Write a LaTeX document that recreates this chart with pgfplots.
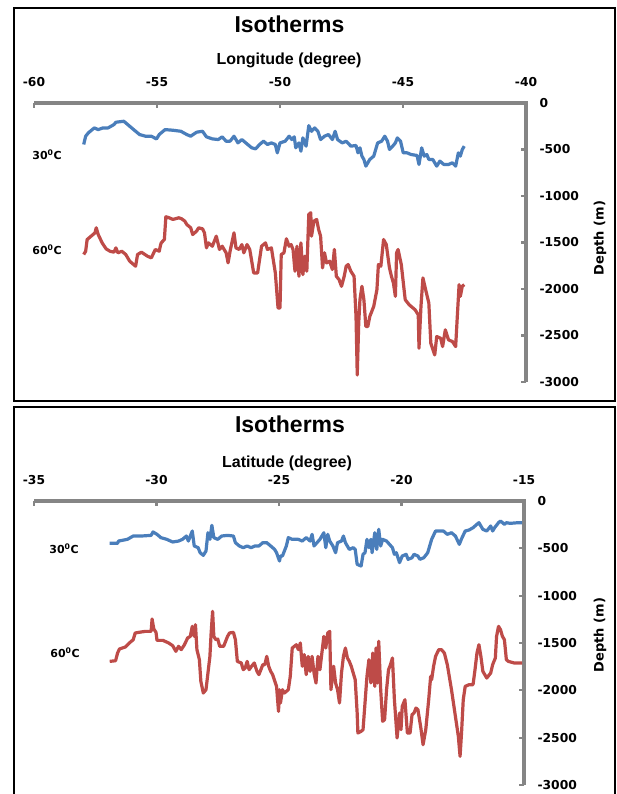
\documentclass[border=0pt]{standalone}
\usepackage{fontspec}
\usepackage{pgfplots}
\pgfplotsset{compat=1.18}
\setmainfont{Liberation Sans}
\newfontfamily\dvs{DejaVu Sans}
\definecolor{isoblue}{HTML}{4A7EBB}
\definecolor{isored}{HTML}{BE4B48}
\definecolor{axgray}{HTML}{858585}
\newcommand{\tickf}{\dvs\bfseries\fontsize{12.3}{14}\selectfont}
\newcommand{\labf}{\dvs\bfseries\fontsize{11}{13}\selectfont}

\pgfplotstableread{
x y
-57.98 -446
-57.90 -357
-57.79 -321
-57.55 -268
-57.39 -286
-57.20 -268
-56.99 -268
-56.75 -232
-56.67 -207
-56.35 -196
-56.19 -232
-55.95 -286
-55.71 -339
-55.47 -357
-55.23 -357
-55.02 -386
-54.91 -339
-54.67 -286
-54.35 -293
-54.03 -304
-53.79 -339
-53.63 -357
-53.39 -314
-53.15 -304
-52.99 -364
-52.75 -386
-52.51 -393
-52.35 -364
-52.19 -411
-52.03 -411
-51.87 -357
-51.71 -429
-51.55 -393
-51.39 -429
-51.15 -482
-50.99 -493
-50.83 -446
-50.67 -411
-50.51 -446
-50.35 -429
-50.19 -446
-50.11 -536
-50.00 -429
-49.79 -411
-49.63 -357
-49.52 -393
-49.42 -364
-49.36 -482
-49.23 -429
-49.15 -518
-49.07 -375
-48.94 -464
-48.83 -243
-48.72 -304
-48.59 -268
-48.46 -304
-48.35 -393
-48.19 -357
-48.03 -339
-47.87 -393
-47.76 -304
-47.66 -393
-47.47 -429
-47.31 -411
-47.12 -464
-46.91 -457
-46.83 -536
-46.75 -482
-46.67 -571
-46.59 -607
-46.51 -679
-46.43 -643
-46.35 -607
-46.19 -571
-46.03 -429
-45.87 -411
-45.74 -357
-45.63 -411
-45.55 -500
-45.42 -464
-45.31 -429
-45.23 -375
-45.10 -411
-44.99 -536
-44.83 -536
-44.67 -554
-44.43 -564
-44.35 -661
-44.24 -482
-44.14 -571
-44.03 -554
-43.95 -607
-43.79 -607
-43.63 -679
-43.50 -625
-43.34 -661
-43.15 -661
-42.99 -643
-42.86 -679
-42.75 -536
-42.67 -571
-42.59 -500
-42.51 -464
}\lonthirty

\pgfplotstableread{
x y
-57.98 -1629
-57.90 -1594
-57.84 -1468
-57.68 -1432
-57.52 -1396
-57.47 -1342
-57.39 -1414
-57.23 -1504
-57.07 -1568
-56.91 -1594
-56.75 -1604
-56.67 -1558
-56.59 -1611
-56.43 -1594
-56.27 -1629
-56.11 -1701
-55.95 -1737
-55.87 -1755
-55.79 -1629
-55.63 -1604
-55.39 -1647
-55.23 -1665
-55.07 -1575
-54.91 -1594
-54.86 -1532
-54.83 -1504
-54.70 -1468
-54.64 -1223
-54.51 -1234
-54.35 -1252
-54.11 -1234
-54.00 -1245
-53.87 -1270
-53.79 -1306
-53.63 -1342
-53.55 -1414
-53.39 -1378
-53.31 -1342
-53.15 -1353
-53.07 -1396
-52.99 -1558
-52.91 -1504
-52.75 -1540
-52.59 -1432
-52.46 -1575
-52.35 -1540
-52.19 -1611
-52.11 -1719
-52.03 -1594
-51.87 -1396
-51.79 -1558
-51.66 -1575
-51.55 -1522
-51.47 -1611
-51.34 -1522
-51.23 -1575
-51.07 -1827
-50.91 -1827
-50.75 -1540
-50.59 -1504
-50.51 -1575
-50.35 -1558
-50.19 -1827
-50.08 -2205
-50.00 -2205
-49.95 -1629
-49.84 -1611
-49.74 -1460
-49.63 -1540
-49.55 -1522
-49.47 -1575
-49.39 -1809
-49.31 -1540
-49.23 -1863
-49.15 -1504
-49.07 -1845
-48.99 -1647
-48.91 -1809
-48.83 -1198
-48.75 -1180
-48.72 -1432
-48.62 -1270
-48.51 -1252
-48.43 -1360
-48.35 -1432
-48.27 -1773
-48.19 -1611
-48.11 -1719
-47.98 -1701
-47.87 -1791
-47.79 -1575
-47.71 -1863
-47.60 -1899
-47.50 -1971
-47.39 -1863
-47.31 -1755
-47.23 -1737
-47.12 -1809
-46.99 -1863
-46.91 -2295
-46.86 -2924
-46.80 -2367
-46.75 -2115
-46.67 -1971
-46.59 -2115
-46.51 -2403
-46.43 -2403
-46.35 -2295
-46.19 -2187
-46.06 -2007
-46.00 -1737
-45.90 -1755
-45.79 -1468
-45.68 -1522
-45.55 -1773
-45.47 -1863
-45.39 -1935
-45.31 -2079
-45.26 -1611
-45.20 -1575
-45.07 -1737
-44.91 -2115
-44.75 -2169
-44.51 -2223
-44.38 -2277
-44.35 -2637
-44.27 -2187
-44.19 -1881
-44.08 -2007
-43.95 -2151
-43.87 -2583
-43.71 -2709
-43.63 -2511
-43.47 -2529
-43.39 -2619
-43.28 -2439
-43.15 -2547
-42.99 -2565
-42.86 -2619
-42.80 -2331
-42.72 -1953
-42.67 -2079
-42.59 -1971
-42.51 -1953
}\lonsixty

\pgfplotstableread{
x y
-31.91 -447
-31.59 -447
-31.55 -423
-31.19 -405
-30.95 -370
-30.63 -370
-30.22 -363
-30.14 -327
-29.98 -352
-29.82 -387
-29.58 -405
-29.34 -433
-29.10 -423
-28.94 -405
-28.78 -370
-28.70 -423
-28.54 -317
-28.46 -475
-28.30 -493
-28.22 -546
-28.09 -574
-27.98 -528
-27.90 -335
-27.82 -405
-27.74 -257
-27.66 -387
-27.50 -405
-27.34 -370
-27.10 -363
-26.86 -370
-26.78 -440
-26.62 -475
-26.46 -493
-26.30 -475
-26.14 -493
-25.98 -475
-25.82 -475
-25.66 -440
-25.50 -440
-25.34 -475
-25.18 -511
-25.10 -546
-24.98 -634
-24.94 -581
-24.86 -581
-24.70 -475
-24.62 -387
-24.46 -405
-24.21 -405
-24.05 -423
-23.89 -387
-23.73 -423
-23.65 -352
-23.57 -475
-23.45 -440
-23.33 -405
-23.25 -370
-23.17 -335
-23.09 -493
-23.01 -352
-22.93 -423
-22.80 -475
-22.69 -546
-22.61 -440
-22.45 -423
-22.37 -370
-22.29 -440
-22.13 -511
-21.97 -493
-21.89 -511
-21.81 -669
-21.65 -687
-21.57 -563
-21.49 -546
-21.41 -405
-21.33 -493
-21.25 -405
-21.20 -546
-21.09 -335
-21.01 -511
-20.93 -299
-20.85 -475
-20.77 -405
-20.61 -423
-20.37 -493
-20.29 -563
-20.21 -546
-20.08 -651
-19.97 -581
-19.81 -563
-19.73 -616
-19.57 -599
-19.49 -563
-19.33 -581
-19.25 -616
-19.09 -599
-18.93 -546
-18.77 -405
-18.61 -317
-18.45 -317
-18.29 -317
-18.13 -352
-17.96 -335
-17.80 -370
-17.64 -458
-17.56 -405
-17.40 -317
-17.24 -306
-17.08 -282
-16.92 -246
-16.84 -229
-16.68 -299
-16.52 -317
-16.36 -264
-16.28 -317
-16.20 -282
-16.04 -229
-15.96 -211
-15.80 -246
-15.72 -229
-15.56 -236
-15.24 -229
-15.08 -229
}\latthirty

\pgfplotstableread{
x y
-31.91 -1694
-31.67 -1687
-31.59 -1606
-31.51 -1563
-31.27 -1542
-31.11 -1500
-30.95 -1465
-30.87 -1394
-30.71 -1387
-30.46 -1377
-30.22 -1377
-30.18 -1246
-30.11 -1352
-30.02 -1387
-29.98 -1472
-29.74 -1472
-29.50 -1500
-29.34 -1528
-29.21 -1588
-29.10 -1535
-28.99 -1570
-28.86 -1518
-28.73 -1447
-28.62 -1430
-28.54 -1324
-28.46 -1430
-28.41 -1306
-28.35 -1570
-28.25 -1676
-28.19 -1905
-28.09 -2028
-27.98 -1993
-27.90 -1817
-27.82 -1641
-27.77 -1394
-27.71 -1165
-27.66 -1430
-27.58 -1465
-27.50 -1458
-27.42 -1535
-27.26 -1535
-27.10 -1430
-27.02 -1394
-26.86 -1387
-26.78 -1465
-26.70 -1694
-26.54 -1711
-26.46 -1782
-26.38 -1764
-26.30 -1694
-26.22 -1782
-26.14 -1753
-26.01 -1711
-25.90 -1799
-25.82 -1834
-25.66 -1729
-25.58 -1729
-25.50 -1641
-25.42 -1746
-25.34 -1799
-25.26 -1834
-25.10 -1958
-25.02 -2222
-24.98 -1993
-24.94 -2134
-24.86 -1993
-24.78 -2028
-24.62 -1993
-24.54 -1852
-24.46 -1553
-24.29 -1518
-24.21 -1570
-24.13 -1500
-24.05 -1746
-23.97 -1623
-23.89 -1834
-23.81 -1641
-23.73 -1799
-23.65 -1641
-23.57 -1817
-23.49 -1923
-23.41 -1641
-23.33 -1782
-23.25 -1606
-23.17 -1430
-23.09 -1553
-23.01 -1394
-22.93 -1377
-22.88 -1993
-22.77 -1746
-22.69 -1923
-22.61 -1993
-22.53 -2134
-22.45 -1817
-22.37 -1641
-22.29 -1553
-22.21 -1658
-22.13 -1694
-22.05 -1746
-21.97 -1817
-21.89 -1887
-21.81 -2239
-21.78 -2451
-21.65 -2433
-21.57 -2415
-21.49 -2134
-21.41 -1852
-21.33 -1676
-21.25 -1922
-21.17 -1606
-21.09 -1958
-21.04 -1553
-20.98 -1922
-20.93 -1482
-20.85 -1993
-20.77 -2327
-20.69 -2310
-20.61 -1993
-20.53 -1782
-20.45 -1729
-20.37 -1658
-20.29 -2099
-20.18 -2503
-20.08 -2239
-20.02 -2415
-19.97 -2169
-19.86 -2099
-19.76 -2451
-19.65 -2451
-19.57 -2257
-19.49 -2239
-19.41 -2187
-19.33 -2204
-19.21 -2398
-19.12 -2574
-19.01 -2415
-18.89 -2099
-18.81 -1852
-18.77 -1887
-18.69 -1746
-18.61 -1641
-18.48 -1570
-18.37 -1570
-18.25 -1606
-18.13 -1729
-17.96 -1993
-17.80 -2275
-17.68 -2486
-17.61 -2697
-17.55 -2451
-17.48 -2099
-17.40 -1958
-17.24 -1940
-17.08 -1940
-17.00 -1782
-16.92 -1606
-16.84 -1518
-16.76 -1641
-16.68 -1799
-16.52 -1870
-16.36 -1817
-16.28 -1729
-16.17 -1658
-16.12 -1430
-16.04 -1324
-15.96 -1359
-15.88 -1430
-15.80 -1465
-15.72 -1676
-15.64 -1694
-15.40 -1711
-15.08 -1711
}\latsixty

\pgfplotsset{
  isoaxis/.style={
    scale only axis,
    anchor=south west,
    axis x line*=top,
    axis y line*=right,
    axis line style={draw=axgray},
    major tick style={draw=axgray, line width=2.2pt},
    tick align=inside,
    major tick length=5pt,
    ymin=-3000, ymax=0,
    ytick={-3000,-2500,-2000,-1500,-1000,-500,0},
    yticklabels={-3000,-2500,-2000,-1500,-1000,-500,0},
    ticklabel style={font=\tickf, text=black},
    xticklabel shift=13pt,
    yticklabel shift=10pt,
    clip=false,
  },
  isoline/.style={line width=3.2pt, line join=round, no markers},
}

\begin{document}
\begin{tikzpicture}[x=1pt,y=1pt]
\useasboundingbox (0,0) rectangle (617,-794);
\fill[white] (0,0) rectangle (617,-794);
% frames
\draw[line width=2pt] (14,-8) rectangle (615,-400.5);
\draw[line width=2pt] (14,-800) -- (14,-407) -- (615,-407) -- (615,-800);

% ---------- top panel ----------
\begin{axis}[isoaxis,
  at={(34pt,-382pt)},
  width=492pt, height=279pt,
  xmin=-60, xmax=-40,
  xtick={-60,-55,-50,-45,-40},
  xticklabels={-60,-55,-50,-45,-40},
]
\draw[axgray, line width=4pt, line cap=butt] (rel axis cs:0,1) -- (rel axis cs:1,1) -- (rel axis cs:1,0);
\addplot[isoline, isoblue] table[x=x,y=y] {\lonthirty};
\addplot[isoline, isored] table[x=x,y=y] {\lonsixty};
\end{axis}
\node[font=\bfseries\fontsize{23}{26}\selectfont] at (289.5,-24) {Isotherms};
\node[font=\bfseries\fontsize{16}{18}\selectfont] at (289,-60) {Longitude (degree)};
\node[font=\dvs\bfseries\fontsize{13}{15}\selectfont, rotate=90] at (600,-238) {Depth (m)};
\node[font=\labf] at (47,-155) {30\textsuperscript{0}C};
\node[font=\labf] at (47,-250) {60\textsuperscript{0}C};

% ---------- bottom panel ----------
\begin{axis}[isoaxis,
  at={(34pt,-785pt)},
  width=490pt, height=284pt,
  xmin=-35, xmax=-15,
  xtick={-35,-30,-25,-20,-15},
  xticklabels={-35,-30,-25,-20,-15},
]
\draw[axgray, line width=4pt, line cap=butt] (rel axis cs:0,1) -- (rel axis cs:1,1) -- (rel axis cs:1,0);
\addplot[isoline, isoblue] table[x=x,y=y] {\latthirty};
\addplot[isoline, isored] table[x=x,y=y] {\latsixty};
\end{axis}
\node[font=\bfseries\fontsize{23}{26}\selectfont] at (290,-424) {Isotherms};
\node[font=\bfseries\fontsize{16}{18}\selectfont] at (287,-463) {Latitude (degree)};
\node[font=\dvs\bfseries\fontsize{13}{15}\selectfont, rotate=90] at (600,-635) {Depth (m)};
\node[font=\labf] at (64,-549) {30\textsuperscript{0}C};
\node[font=\labf] at (65,-653) {60\textsuperscript{0}C};
\end{tikzpicture}
\end{document}
